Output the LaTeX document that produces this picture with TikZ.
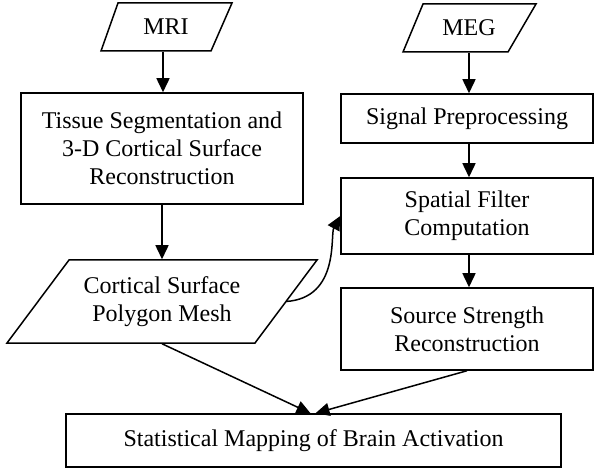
\documentclass[tikz,border=0pt]{standalone}
\usepackage{fontspec}
\setmainfont{Liberation Serif}
\usetikzlibrary{arrows.meta,calc}
\begin{document}
\begin{tikzpicture}[x=1pt,y=1pt,
  line width=1.5pt,
  every node/.style={font=\fontsize{24}{28}\selectfont, align=center, inner sep=0pt},
  box/.style={draw, rectangle, minimum width=#1},
  txt/.style={},
  arr/.style={-{Triangle[length=14pt,width=13pt]}}]
\useasboundingbox (0,0) rectangle (594,-470);
% MRI parallelogram
\draw (118,-3) -- (232,-3) -- (211,-51) -- (101,-51) -- cycle;
\node[txt, minimum height=48pt] (mri) at (166,-27) {MRI};
% MEG parallelogram
\draw (423,-4) -- (536,-4) -- (508,-52) -- (403,-52) -- cycle;
\node[txt, minimum height=48pt] (meg) at (469,-28) {MEG};
% boxes
\node[box=282pt, minimum height=111pt] (tissue) at (162,-148.5) {Tissue Segmentation and\\3-D Cortical Surface\\Reconstruction};
\node[box=252pt, minimum height=49pt] (signal) at (467,-118.5) {Signal Preprocessing};
\node[box=252pt, minimum height=76pt] (spatial) at (467,-216) {Spatial Filter\\Computation};
\node[box=252pt, minimum height=82pt] (source) at (467,-329) {Source Strength\\Reconstruction};
\node[box=495pt, minimum height=53pt] (stat) at (313.5,-440.5) {Statistical Mapping of Brain Activation};
% mesh parallelogram
\draw (69,-260) -- (317,-260) -- (255,-343) -- (7,-343) -- cycle;
\node[txt, minimum height=83pt] (mesh) at (162,-301.5) {Cortical Surface\\Polygon Mesh};
\coordinate (meshe) at (286,-301.5);
% connectors
\draw[arr] (mri.south -| tissue.north) ++(1,0) coordinate (m0) -- (m0 |- tissue.north);
\draw[arr] (meg.south) coordinate (g0) -- (g0 |- signal.north);
\draw[arr] (tissue.south) -- (mesh.north);
\draw[arr] (signal.south -| meg.south) -- (spatial.north -| meg.south);
\draw[arr] (spatial.south -| meg.south) -- (source.north -| meg.south);
\draw[arr] (meshe) .. controls (340,-298) and (330,-235) .. (spatial.west);
\draw[arr] (mesh.south) -- ($(stat.north)+(-3,0)$);
\draw[arr] (source.south) -- ($(stat.north)+(2,0)$);
\end{tikzpicture}
\end{document}
